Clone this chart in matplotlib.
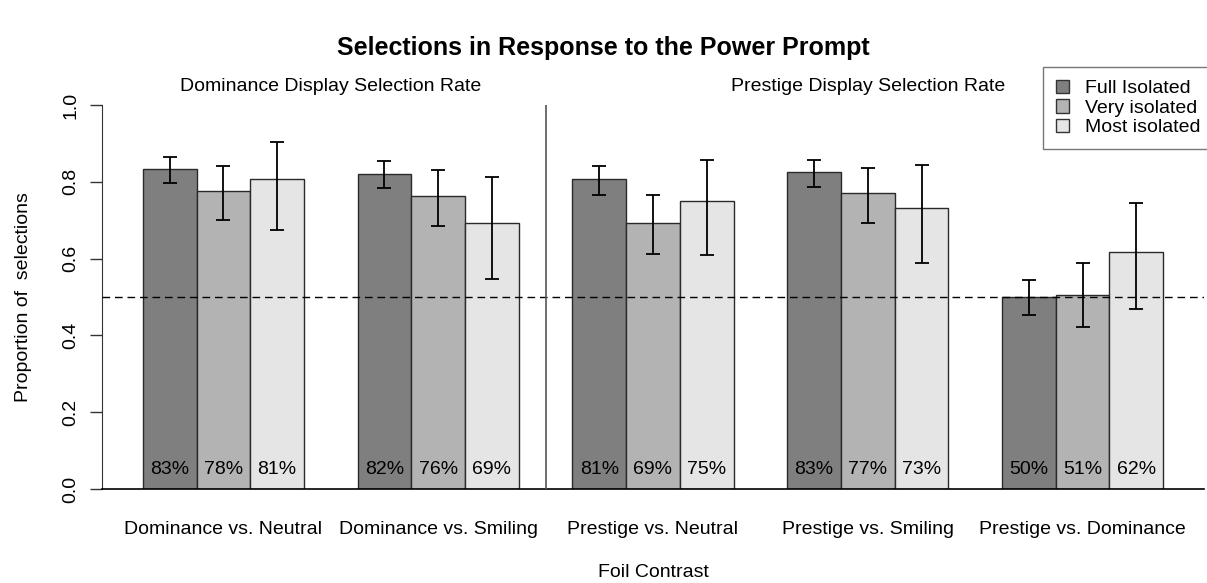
import numpy as np
import matplotlib
matplotlib.use("Agg")
import matplotlib.pyplot as plt
from matplotlib.patches import Patch

plt.rcParams['font.family'] = ['Liberation Sans', 'DejaVu Sans']

contrasts = ['Dominance vs. Neutral', 'Dominance vs. Smiling', 'Prestige vs. Neutral',
             'Prestige vs. Smiling', 'Prestige vs. Dominance']
conditions = ['Full Isolated', 'Very isolated', 'Most isolated']
colors = ['#7f7f7f', '#b3b3b3', '#e5e5e5']

# proportion of selections, one list per condition (across contrasts)
full_isolated = [0.833, 0.821, 0.806, 0.826, 0.500]
very_isolated = [0.777, 0.763, 0.694, 0.771, 0.506]
most_isolated = [0.808, 0.692, 0.750, 0.731, 0.616]

# confidence interval bounds
full_lo = [0.797, 0.783, 0.766, 0.787, 0.453]
full_hi = [0.865, 0.854, 0.841, 0.857, 0.544]
very_lo = [0.700, 0.685, 0.612, 0.693, 0.422]
very_hi = [0.841, 0.830, 0.766, 0.835, 0.589]
most_lo = [0.674, 0.548, 0.609, 0.588, 0.469]
most_hi = [0.903, 0.812, 0.857, 0.843, 0.745]

heights = [full_isolated, very_isolated, most_isolated]
lows = [full_lo, very_lo, most_lo]
highs = [full_hi, very_hi, most_hi]

FS = 14

fig = plt.figure(figsize=(12.07, 5.83), dpi=100)
ax = fig.add_axes([0.0845, 0.1612, 0.913, 0.6587])

n_groups = len(contrasts)
group_start = 1 + 4 * np.arange(n_groups)  # one bar of space between groups

for j in range(3):
    left = group_start + j
    ax.bar(left, heights[j], width=1.0, align='edge', color=colors[j],
           edgecolor='#2a2a2a', linewidth=1.0, zorder=2)
    centers = left + 0.5
    h = np.array(heights[j])
    yerr = [h - np.array(lows[j]), np.array(highs[j]) - h]
    ax.errorbar(centers, h, yerr=yerr, fmt='none', ecolor='black',
                elinewidth=1.3, capsize=5, capthick=1.3, zorder=4)
    for x, v in zip(centers, heights[j]):
        ax.text(x, 0.052, f'{round(v * 100):d}%', ha='center', va='center',
                fontsize=FS, zorder=5)

# chance line and the divider between display types
ax.axhline(0.5, color='black', linewidth=1.0, linestyle=(0, (5.5, 3.5)), zorder=3)
ax.plot([8.5, 8.5], [0, 1], color='#555555', linewidth=1.2, zorder=3)

ax.set_xlim(0.24, 20.76)
ax.set_ylim(0, 1.0)
ax.spines['top'].set_visible(False)
ax.spines['right'].set_visible(False)
ax.spines['left'].set_bounds(0, 1)
ax.spines['left'].set_color('#333333')
ax.spines['bottom'].set_linewidth(1.2)

ax.set_yticks([0.0, 0.2, 0.4, 0.6, 0.8, 1.0])
ax.set_yticklabels(['0.0', '0.2', '0.4', '0.6', '0.8', '1.0'], rotation=90, va='center')
ax.tick_params(axis='y', length=8.5, width=1.0, labelsize=FS, pad=8, color='#333333')
ax.set_xticks(group_start + 1.5)
ax.set_xticklabels(contrasts, fontsize=FS)
ax.tick_params(axis='x', length=0, pad=23)

ax.set_ylabel('Proportion of  selections', fontsize=FS, labelpad=22)
ax.set_xlabel('Foil Contrast', fontsize=FS, labelpad=19)

ax.text(4.5, 1.049, 'Dominance Display Selection Rate', ha='center', va='center', fontsize=FS)
ax.text(14.5, 1.049, 'Prestige Display Selection Rate', ha='center', va='center', fontsize=FS)

fig.suptitle('Selections in Response to the Power Prompt', fontsize=18,
             fontweight='bold', y=0.918, va='center')

# legend box runs up to the right edge of the figure
handles = [Patch(facecolor=c, edgecolor='#333333', linewidth=1.0) for c in colors]
leg = ax.legend(handles, conditions, loc='upper left', bbox_to_anchor=(0.854, 1.099),
                borderaxespad=0, fontsize=FS, frameon=True, fancybox=False,
                handlelength=0.7, handleheight=0.7, handletextpad=0.8,
                labelspacing=0.1, borderpad=0.65)
leg.get_frame().set_edgecolor('#555555')
leg.get_frame().set_linewidth(1.0)

fig.savefig('out.png', dpi=100, facecolor='white')
